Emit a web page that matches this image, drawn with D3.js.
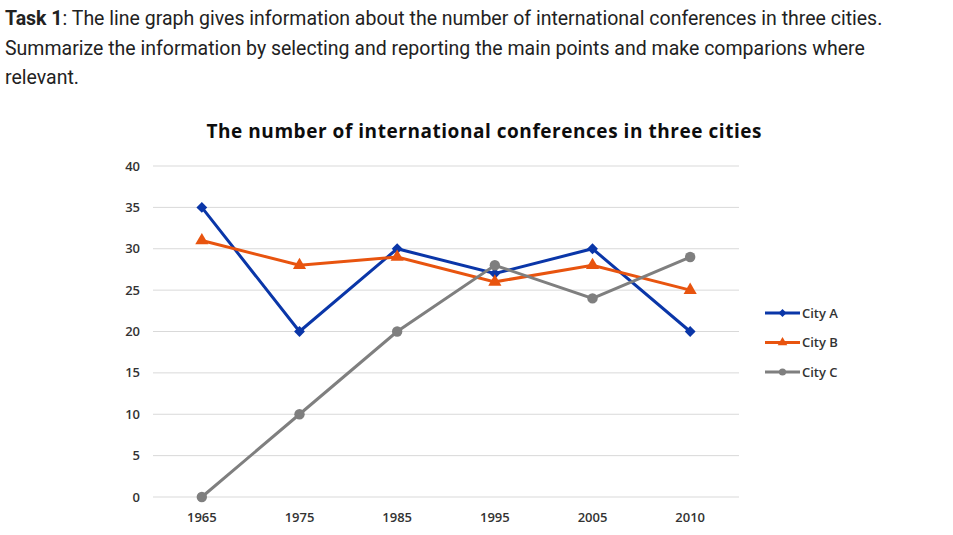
<!DOCTYPE html>
<html>
<head>
<meta charset="utf-8">
<script src="https://cdn.jsdelivr.net/npm/d3@7"></script>
<style>
  body { margin: 0; background: #fff; }
  .task { position: absolute; left: 5px; top: 4px; font-family: Roboto, sans-serif; font-size: 19.5px; line-height: 29.5px; color: #222; white-space: nowrap; }
  .grid line { stroke: #d9d9d9; stroke-width: 1; }
  .tick-label { font-family: "Open Sans", sans-serif; font-size: 13px; font-weight: 600; fill: #333; }
</style>
</head>
<body>
<div class="task"><b>Task 1</b>: The line graph gives information about the number of international conferences in three cities.<br>Summarize the information by selecting and reporting the main points and make comparions where<br>relevant.</div>
<div id="chart"></div>
<script>
// categories and series
var years = ["1965", "1975", "1985", "1995", "2005", "2010"];
var cityA = [35, 20, 30, 27, 30, 20];
var cityB = [31, 28, 29, 26, 28, 25];
var cityC = [0, 10, 20, 28, 24, 29];
var yTicks = [0, 5, 10, 15, 20, 25, 30, 35, 40];

var series = [
  { name: "City A", values: cityA, color: "#0a36a8", marker: d3.symbolDiamond2 },
  { name: "City B", values: cityB, color: "#e8540f", marker: d3.symbolTriangle },
  { name: "City C", values: cityC, color: "#7f7f7f", marker: d3.symbolCircle }
];

var svgWidth = 953, svgHeight = 535;
var plot = { left: 153, right: 739, top: 166, bottom: 497 };

var svg = d3.select("#chart").append("svg")
  .attr("width", svgWidth)
  .attr("height", svgHeight);

var x = d3.scalePoint()
  .domain(years)
  .range([plot.left, plot.right])
  .padding(0.5);

var y = d3.scaleLinear()
  .domain([0, 40])
  .range([plot.bottom, plot.top]);

// title
svg.append("text")
  .attr("x", 484)
  .attr("y", 138)
  .attr("text-anchor", "middle")
  .style("font-family", "'Open Sans', sans-serif")
  .style("font-weight", "bold")
  .style("font-size", "19px")
  .attr("textLength", 555)
  .attr("fill", "#0d0d0d")
  .text("The number of international conferences in three cities");

// gridlines
svg.append("g").attr("class", "grid")
  .selectAll("line")
  .data(yTicks)
  .enter().append("line")
  .attr("x1", plot.left)
  .attr("x2", plot.right)
  .attr("y1", d => y(d))
  .attr("y2", d => y(d));

// y axis labels
svg.append("g")
  .selectAll("text")
  .data(yTicks)
  .enter().append("text")
  .attr("class", "tick-label")
  .attr("x", 140)
  .attr("y", d => y(d))
  .attr("dy", "0.35em")
  .attr("text-anchor", "end")
  .text(d => d);

// x axis labels
svg.append("g")
  .selectAll("text")
  .data(years)
  .enter().append("text")
  .attr("class", "tick-label")
  .attr("x", d => x(d))
  .attr("y", 522)
  .attr("text-anchor", "middle")
  .text(d => d);

var line = d3.line()
  .x((d, i) => x(years[i]))
  .y(d => y(d));

series.forEach(function(s) {
  svg.append("path")
    .datum(s.values)
    .attr("fill", "none")
    .attr("stroke", s.color)
    .attr("stroke-width", 3)
    .attr("d", line);

  var size = s.marker === d3.symbolCircle ? 85 : 75;
  svg.append("g")
    .selectAll("path")
    .data(s.values)
    .enter().append("path")
    .attr("transform", (d, i) => `translate(${x(years[i])},${y(d)})`)
    .attr("d", d3.symbol().type(s.marker).size(size)())
    .attr("fill", s.color);
});

// legend
var legend = svg.append("g");
series.forEach(function(s, i) {
  var ly = 313 + i * 29.5;
  legend.append("line")
    .attr("x1", 765).attr("x2", 800)
    .attr("y1", ly).attr("y2", ly)
    .attr("stroke", s.color)
    .attr("stroke-width", 3);
  legend.append("path")
    .attr("transform", `translate(782.5,${ly})`)
    .attr("d", d3.symbol().type(s.marker).size(40)())
    .attr("fill", s.color);
  legend.append("text")
    .attr("x", 802)
    .attr("y", ly)
    .attr("dy", "0.35em")
    .style("font-family", "'Open Sans', sans-serif")
    .style("font-size", "13px")
    .style("font-weight", "600")
    .attr("fill", "#333")
    .text(s.name);
});
</script>
</body>
</html>
